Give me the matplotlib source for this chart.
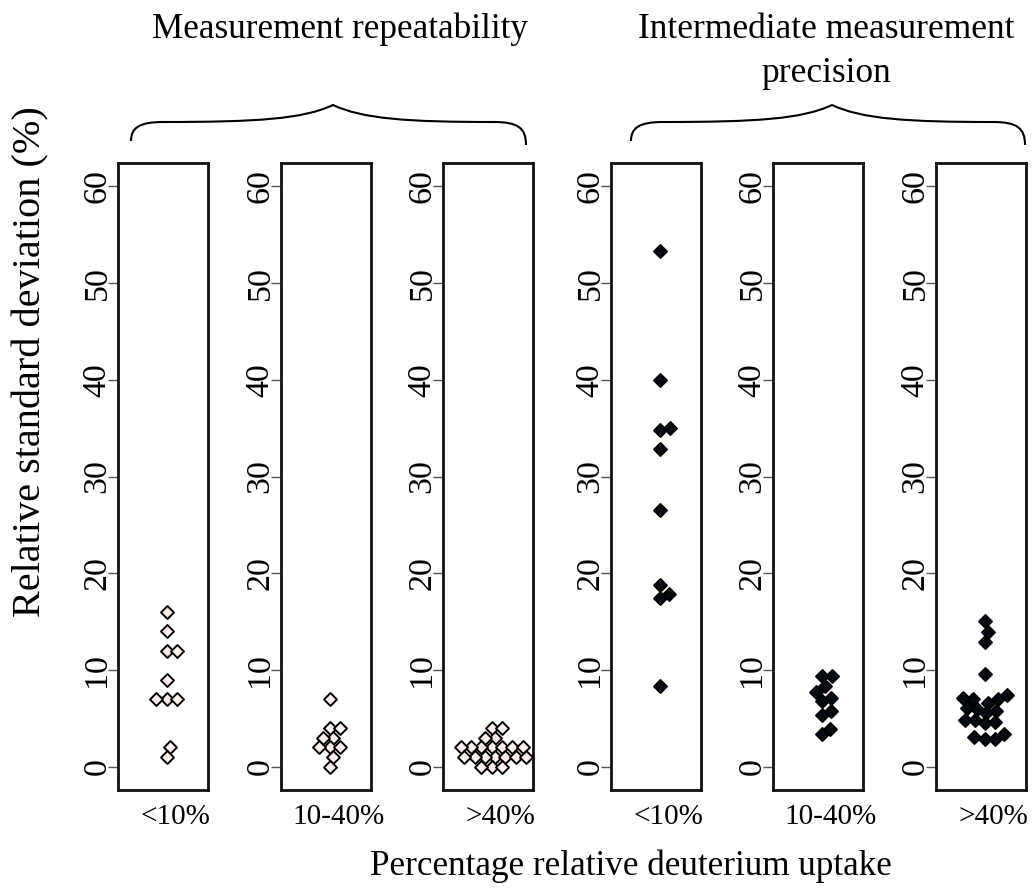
import numpy as np
import matplotlib
matplotlib.use("Agg")
import matplotlib.pyplot as plt
from matplotlib.path import Path
from matplotlib.patches import PathPatch
from matplotlib.transforms import Affine2D
from matplotlib.markers import MarkerStyle

plt.rcParams['font.family'] = ['Liberation Serif', 'DejaVu Serif']

# Relative standard deviation (%) per peptide, grouped by deuterium uptake
groups = ["<10%", "10-40%", ">40%"]

repeat_low = [16, 14, 12, 12, 9, 7, 7, 7, 2, 1]
repeat_mid = [7, 4, 4, 3, 3, 2, 2, 2, 1, 0]
repeat_high = [4, 4, 3, 3, 2, 2, 2, 2, 2, 2, 2, 1, 1, 1, 1, 1, 1, 1, 0, 0, 0]

inter_low = [53.3, 40.0, 35.0, 34.8, 32.8, 26.5, 18.8, 17.9, 17.4, 8.3]
inter_mid = [9.4, 9.4, 8.3, 7.7, 7.15, 6.8, 5.8, 5.4, 3.9, 3.35]
inter_high = [15.1, 13.9, 12.9, 9.6, 7.4, 7.1, 7.0, 7.0, 6.6, 6.05, 6.0, 5.8,
              5.55, 4.85, 4.85, 4.6, 4.5, 3.4, 3.1, 2.9, 2.9]

series = [repeat_low, repeat_mid, repeat_high, inter_low, inter_mid, inter_high]
yticks = [0, 10, 20, 30, 40, 50, 60]

W, H = 1035, 888
fig = plt.figure(figsize=(W / 100, H / 100), dpi=100)

panel_left = [118, 281, 443, 611, 773, 936]
panel_w = 90
panel_top, panel_bottom = 163, 790

light_fill = "#fcefec"
dark_fill = "#020a12"
diamond = MarkerStyle("D", joinstyle="round")


def swarm_offsets(values, sy, d):
    """Beeswarm placement: each point gets the x offset (px) nearest the
    centre that does not collide with the points placed before it."""
    order = np.argsort(values, kind="stable")
    placed_x, placed_y = [], []
    xs = np.zeros(len(values))
    for i in order:
        y = values[i] * sy
        cands = [0.0]
        for px, py in zip(placed_x, placed_y):
            dy = abs(y - py)
            if dy < d:
                dx = np.sqrt(d * d - dy * dy)
                cands += [px + dx, px - dx]
        ok = []
        for c in cands:
            good = True
            for px, py in zip(placed_x, placed_y):
                if (c - px) ** 2 + (y - py) ** 2 < d * d - 1e-6:
                    good = False
                    break
            if good:
                ok.append(c)
        best = min(ok, key=lambda c: (round(abs(c), 6), -c))
        xs[i] = best
        placed_x.append(best)
        placed_y.append(y)
    return xs


for k, vals in enumerate(series):
    ax = fig.add_axes([panel_left[k] / W, 1 - panel_bottom / H,
                       panel_w / W, (panel_bottom - panel_top) / H])
    ax.set_xlim(-1.08, 0.92)
    ax.set_ylim(-2.4, 62.4)
    sx = panel_w / 2.0
    sy = (panel_bottom - panel_top) / 64.8
    offs = swarm_offsets(np.array(vals, dtype=float), sy, 10.3)
    fill = light_fill if k < 3 else dark_fill
    ax.scatter(offs / sx, vals, marker=diamond, s=6.6 ** 2, facecolor=fill,
               edgecolor="black", linewidth=1.4, zorder=3)
    ax.set_yticks(yticks)
    ax.set_yticklabels([str(t) for t in yticks], rotation=90, va="center",
                       fontsize=24.5)
    ax.tick_params(axis="y", length=7, width=1.0, pad=-3, color="#555555")
    ax.set_xticks([])
    for sp in ax.spines.values():
        sp.set_linewidth(2.0)
        sp.set_color("#111111")
    ax.text(0.64, -0.022, groups[k % 3], transform=ax.transAxes,
            ha="center", va="top", fontsize=21)

# Figure-level labels
fig.text(631 / W, 1 - 866 / H, "Percentage relative deuterium uptake",
         ha="center", va="center", fontsize=25.3)
fig.text(31 / W, 1 - 362 / H, "Relative standard deviation (%)",
         ha="center", va="center", rotation=90, fontsize=29)
fig.text(340 / W, 1 - 29 / H, "Measurement repeatability",
         ha="center", va="center", fontsize=25.3)
fig.text(826 / W, 1 - 51 / H, "Intermediate measurement\nprecision",
         ha="center", va="center", fontsize=25.5, linespacing=1.44)

# Curly braces grouping the panels
px_to_fig = Affine2D().scale(1 / W, -1 / H).translate(0, 1) + fig.transFigure


def brace(L, R, M, yl, yr, yf, yp):
    verts = [
        (L, yl), (L, yf + 6), (L + 8, yf), (L + 32, yf),
        (M - 75, yf), (M - 30, yf - 3), (M, yp),
        (M + 30, yf - 3), (M + 75, yf), (R - 32, yf),
        (R - 8, yf), (R, yf + 6), (R, yr),
    ]
    codes = [Path.MOVETO] + [Path.CURVE4] * 12
    p = PathPatch(Path(verts, codes), fill=False, lw=1.5, color="black",
                  transform=px_to_fig)
    fig.patches.append(p)


brace(131, 526, 333, 141, 145, 122, 105)
brace(631, 1025, 832, 141, 145, 122, 105)

fig.savefig("out.png", dpi=100)
